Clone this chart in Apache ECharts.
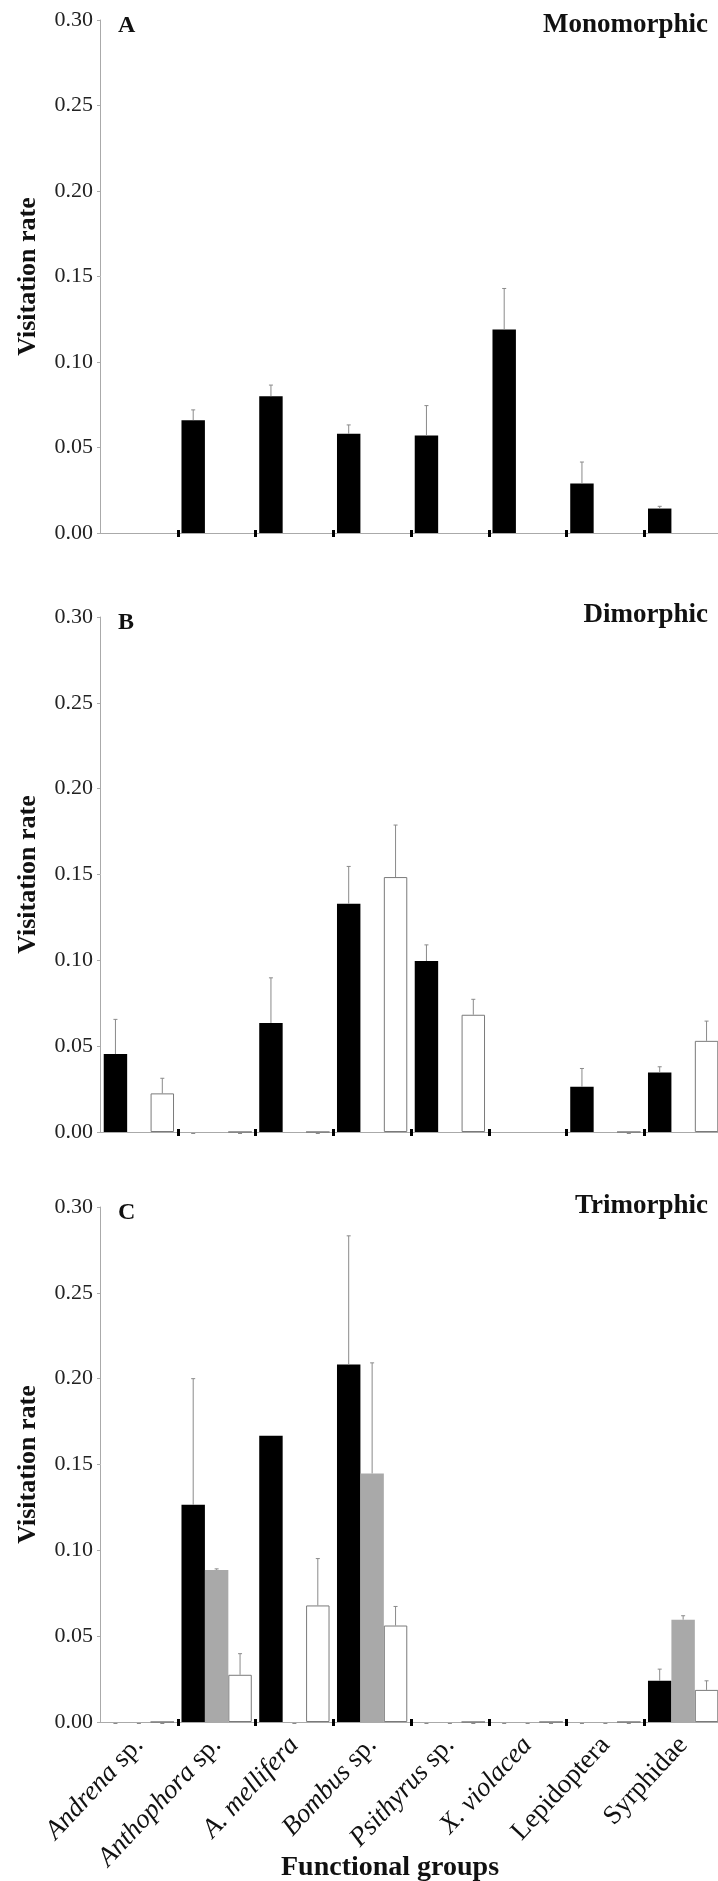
<!DOCTYPE html>
<html>
<head>
<meta charset="utf-8">
<script src="https://cdn.jsdelivr.net/npm/echarts@6/dist/echarts.min.js"></script>
<style>
  html, body { margin: 0; padding: 0; background: #fff; overflow: hidden; }
  /* a little wider than the window: the plot runs up to / past the right edge, as in the figure */
  #chart { width: 730px; height: 1881px; }
</style>
</head>
<body>
<div id="chart"></div>
<script>
// Functional groups (x axis)
var groups = ['Andrena sp.', 'Anthophora sp.', 'A. mellifera', 'Bombus sp.',
  'Psithyrus sp.', 'X. violacea', 'Lepidoptera', 'Syrphidae'];

// A - Monomorphic (black bars only)
var monoBlack   = [null, 0.066, 0.080, 0.058, 0.057, 0.119, 0.029, 0.0143];
var monoBlackSe = [null, 0.006, 0.0065, 0.0052, 0.0175, 0.024, 0.0125, 0.0013];

// B - Dimorphic (black + white)
var diBlack   = [0.0454, 0, 0.0635, 0.133, 0.0996, null, 0.0263, 0.0346];
var diBlackSe = [0.0202, 0, 0.0263, 0.0217, 0.0094, null, 0.0107, 0.0034];
var diWhite   = [0.0225, 0, 0, 0.1485, 0.0683, null, 0, 0.0531];
var diWhiteSe = [0.0088, 0, 0, 0.0303, 0.009, null, 0, 0.0115];

// C - Trimorphic (black + grey + white)
var triBlack   = [0, 0.1265, 0.1667, 0.2082, 0, 0, 0, 0.024];
var triBlackSe = [0, 0.0735, 0, 0.075, 0, 0, 0, 0.0068];
var triGrey    = [0, 0.0886, 0, 0.1448, 0, 0, 0, 0.0596];
var triGreySe  = [0, 0.0006, 0, 0.0644, 0, 0, 0, 0.0023];
var triWhite   = [0, 0.0275, 0.0679, 0.0562, 0, 0, 0, 0.0187];
var triWhiteSe = [0, 0.0123, 0.0273, 0.0111, 0, 0, 0, 0.0053];

var SERIF = "'Liberation Serif', 'Times New Roman', serif";
var GAP = 0.096;
var empty = groups.map(function () { return null; });

var panels = [
  { letter: 'A', title: 'Monomorphic', top: 20, height: 513, titleOff: -13,
    vals: [monoBlack, empty, empty], ses: [monoBlackSe, empty, empty] },
  { letter: 'B', title: 'Dimorphic', top: 617, height: 515, titleOff: -20,
    vals: [diBlack, empty, diWhite], ses: [diBlackSe, empty, diWhiteSe] },
  { letter: 'C', title: 'Trimorphic', top: 1207, height: 515, titleOff: -19,
    vals: [triBlack, triGrey, triWhite], ses: [triBlackSe, triGreySe, triWhiteSe] }
];

var barStyles = [
  { color: '#000' },
  { color: '#a9a9a9' },
  { color: '#fff', borderColor: '#7a7a7a', borderWidth: 1 }
];

var italicPart = {
  'Andrena sp.': ['Andrena', ' sp.'],
  'Anthophora sp.': ['Anthophora', ' sp.'],
  'A. mellifera': ['A. mellifera', ''],
  'Bombus sp.': ['Bombus', ' sp.'],
  'Psithyrus sp.': ['Psithyrus', ' sp.'],
  'X. violacea': ['X. violacea', ''],
  'Lepidoptera': ['', 'Lepidoptera'],
  'Syrphidae': ['', 'Syrphidae']
};

function renderErr(params, api) {
  var cat = api.value(0), slot = api.value(1), val = api.value(2), se = api.value(3);
  var band = api.size([1, 0])[0];
  var bw = band * (1 - GAP) / 3;
  var p0 = api.coord([cat, val]);
  var x = p0[0] + (slot - 1) * bw;
  var style = { stroke: '#8a8a8a', lineWidth: 1 };
  if (val === 0 && se === 0) {
    return { type: 'line', shape: { x1: x - 2, y1: p0[1] + 1.5, x2: x + 2, y2: p0[1] + 1.5 }, style: style };
  }
  if (!(se > 0)) return null;
  var p1 = api.coord([cat, val + se]);
  return {
    type: 'group',
    children: [
      { type: 'line', shape: { x1: x, y1: p0[1], x2: x, y2: p1[1] }, style: style },
      { type: 'line', shape: { x1: x - 2, y1: p1[1], x2: x + 2, y2: p1[1] }, style: style }
    ]
  };
}

var option = {
  animation: false,
  backgroundColor: '#fff',
  title: [{
    text: 'Functional groups', left: 385, top: 1849, textAlign: 'center',
    textStyle: { fontFamily: SERIF, fontSize: 28, fontWeight: 'bold', color: '#111' }
  }],
  grid: [],
  xAxis: [],
  yAxis: [],
  series: []
};

function notFirst(i) { return i > 0; }

panels.forEach(function (p, k) {
  var last = k === panels.length - 1;
  option.grid.push({ left: 100, width: 622, top: p.top, height: p.height });
  option.title.push({
    text: p.letter, left: 113, top: p.top - 11,
    textStyle: { fontFamily: SERIF, fontSize: 24, fontWeight: 'bold', color: '#111' }
  });
  option.title.push({
    text: p.title, right: 17, top: p.top + p.titleOff,
    textStyle: { fontFamily: SERIF, fontSize: 27, fontWeight: 'bold', color: '#111' }
  });
  option.xAxis.push({
    type: 'category', gridIndex: k, data: groups,
    axisLine: { lineStyle: { color: '#aaa', width: 1 } },
    axisTick: {
      show: true, length: 4, interval: notFirst,
      lineStyle: { color: '#000', width: 3 }
    },
    axisLabel: {
      show: last, interval: 0, rotate: 47, margin: 19,
      formatter: function (v) {
        var parts = italicPart[v];
        var s = '';
        if (parts[0]) s += '{i|' + parts[0] + '}';
        if (parts[1]) s += '{n|' + parts[1] + '}';
        return s;
      },
      rich: {
        i: { fontFamily: SERIF, fontSize: 27, fontStyle: 'italic', color: '#111' },
        n: { fontFamily: SERIF, fontSize: 27, color: '#111' }
      }
    }
  });
  option.yAxis.push({
    type: 'value', gridIndex: k, min: 0, max: 0.3, interval: 0.05,
    axisLine: { show: true, lineStyle: { color: '#aaa', width: 1 } },
    axisTick: { show: true, length: 3, lineStyle: { color: '#aaa' } },
    splitLine: { show: false },
    axisLabel: {
      margin: 7, fontFamily: SERIF, fontSize: 22, color: '#222',
      formatter: function (v) { return v.toFixed(2); }
    },
    name: 'Visitation rate', nameLocation: 'middle', nameGap: 59,
    nameTextStyle: { fontFamily: SERIF, fontSize: 26, fontWeight: 'bold', color: '#111' }
  });
  var errData = [];
  [0, 1, 2].forEach(function (slot) {
    option.series.push({
      type: 'bar', xAxisIndex: k, yAxisIndex: k,
      name: ['black', 'grey', 'white'][slot],
      data: p.vals[slot], barGap: '0%', barCategoryGap: (GAP * 100) + '%',
      itemStyle: barStyles[slot]
    });
    p.vals[slot].forEach(function (v, i) {
      if (v !== null) errData.push([i, slot, v, p.ses[slot][i]]);
    });
  });
  option.series.push({
    type: 'custom', xAxisIndex: k, yAxisIndex: k, z: 5,
    renderItem: renderErr, data: errData,
    encode: { x: 0, y: 2 }
  });
});

// second x axis per panel: the part of each tick mark that sits above the line
panels.forEach(function (p, k) {
  option.xAxis.push({
    type: 'category', gridIndex: k, data: groups, position: 'bottom',
    axisLine: { show: false },
    axisTick: {
      show: true, inside: true, length: 3, interval: notFirst,
      lineStyle: { color: '#000', width: 3 }
    },
    axisLabel: { show: false }
  });
});

var chart = echarts.init(document.getElementById('chart'));
chart.setOption(option);
window.addEventListener('resize', function () {
  chart.resize();
});
</script>
</body>
</html>
